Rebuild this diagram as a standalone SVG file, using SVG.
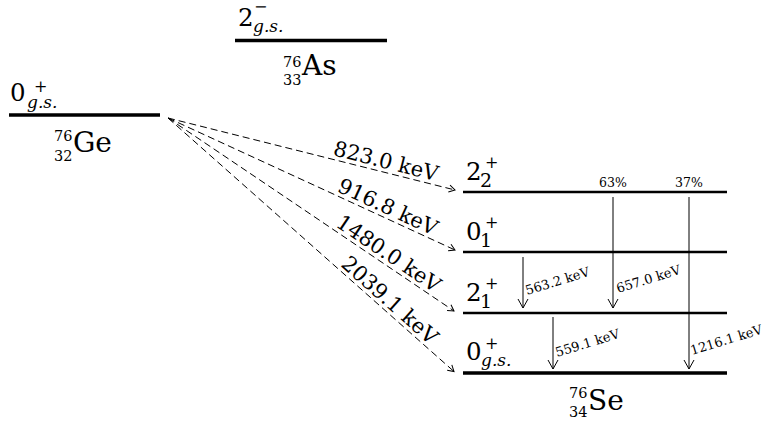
<svg xmlns="http://www.w3.org/2000/svg" width="763" height="425" viewBox="0 0 763 425" font-family="'DejaVu Serif', serif">
<style>
text{font-family:'DejaVu Serif',serif;fill:#000}
.st{font-size:24.5px}
.sb{font-size:19px}
.sp{font-size:16px}
.gs{font-size:17px;font-style:italic}
.nuc{font-size:28px}
.nn{font-size:14.5px}
.lvl{stroke:#000;stroke-width:2.5}
.gnd{stroke:#000;stroke-width:3.5}
.dash{stroke:#000;stroke-width:1;stroke-dasharray:7 4;fill:none;marker-end:url(#ah1)}
.gam{stroke:#000;stroke-width:1;fill:none;marker-end:url(#ah2)}
.el{font-size:21px}
.gl{font-size:13px}
.pc{font-size:12.5px}
</style>
<defs>
<marker id="ah1" viewBox="-8 -5 10 10" refX="0" refY="0" markerWidth="10" markerHeight="10" markerUnits="userSpaceOnUse" orient="auto"><path d="M-6,-3.5 L0,0 L-6,3.5" fill="none" stroke="#000" stroke-width="1"/></marker>
<marker id="ah2" viewBox="-11 -6 12 12" refX="0" refY="0" markerWidth="12" markerHeight="12" markerUnits="userSpaceOnUse" orient="auto"><path d="M-9,-5 L0,0 L-9,5" fill="none" stroke="#000" stroke-width="1"/></marker>
</defs>

<g id="ge76">
<line class="gnd" x1="9" y1="115" x2="160" y2="115"/>
<text class="st" x="10" y="101">0<tspan class="sp" x="34" y="92">+</tspan><tspan class="gs" x="27" y="108">g.s.</tspan></text>
<text class="nuc" x="73" y="152"><tspan class="nn" x="54" y="141">76</tspan><tspan class="nn" x="54" y="161">32</tspan><tspan x="73" y="152">Ge</tspan></text>
</g>

<g id="as76">
<line class="gnd" x1="235" y1="40.5" x2="387" y2="40.5"/>
<text class="st" x="238" y="26">2<tspan class="sp" x="254" y="12">−</tspan><tspan class="gs" x="253" y="32">g.s.</tspan></text>
<text class="nuc" x="302" y="75"><tspan class="nn" x="283" y="67">76</tspan><tspan class="nn" x="283" y="85">33</tspan><tspan x="302" y="75">As</tspan></text>
</g>

<g id="se-2-2">
<line class="lvl" x1="463" y1="192" x2="727" y2="192"/>
<text class="st" x="466" y="179.5">2<tspan class="sb" x="480" y="187">2</tspan><tspan class="sp" x="485" y="168">+</tspan></text>
</g>
<g id="se-0-1">
<line class="lvl" x1="463" y1="252" x2="727" y2="252"/>
<text class="st" x="466" y="239.5">0<tspan class="sb" x="480" y="247">1</tspan><tspan class="sp" x="485" y="228">+</tspan></text>
</g>
<g id="se-2-1">
<line class="lvl" x1="463" y1="313" x2="727" y2="313"/>
<text class="st" x="466" y="300.5">2<tspan class="sb" x="480" y="308">1</tspan><tspan class="sp" x="485" y="289">+</tspan></text>
</g>
<g id="se-0-gs">
<line class="gnd" x1="463" y1="373" x2="727" y2="373"/>
<text class="st" x="466" y="360">0<tspan class="sp" x="485" y="349">+</tspan><tspan class="gs" x="481" y="366">g.s.</tspan></text>
<text class="nuc" x="588" y="410"><tspan class="nn" x="569" y="398">76</tspan><tspan class="nn" x="569" y="417">34</tspan><tspan x="588" y="410">Se</tspan></text>
</g>

<g id="connectors">
<line class="dash" x1="168" y1="118" x2="455" y2="190"/>
<line class="dash" x1="168" y1="118" x2="455" y2="250"/>
<line class="dash" x1="168" y1="118" x2="454" y2="311"/>
<line class="dash" x1="168" y1="118" x2="454" y2="371.5"/>
<text class="el" text-anchor="middle" transform="translate(383.25,172) rotate(14.08)" y="-4">823.0 keV</text>
<text class="el" text-anchor="middle" transform="translate(383.25,217) rotate(24.7)" y="-4">916.8 keV</text>
<text class="el" text-anchor="middle" transform="translate(382.5,262.75) rotate(34)" y="-4">1480.0 keV</text>
<text class="el" text-anchor="middle" transform="translate(382.5,308.5) rotate(41.6)" y="-4">2039.1 keV</text>

<line class="gam" x1="523" y1="257" x2="523" y2="308"/>
<line class="gam" x1="613" y1="197" x2="613" y2="308"/>
<line class="gam" x1="553" y1="317" x2="553" y2="369"/>
<line class="gam" x1="689" y1="197" x2="689" y2="369"/>
<text class="gl" transform="translate(527,295) rotate(-17)">563.2 keV</text>
<text class="gl" transform="translate(618,293) rotate(-17)">657.0 keV</text>
<text class="gl" transform="translate(557,357) rotate(-17)">559.1 keV</text>
<text class="gl" transform="translate(692,355) rotate(-17)">1216.1 keV</text>
<text class="pc" text-anchor="middle" x="613" y="187">63%</text>
<text class="pc" text-anchor="middle" x="689" y="187">37%</text>
</g>
</svg>
